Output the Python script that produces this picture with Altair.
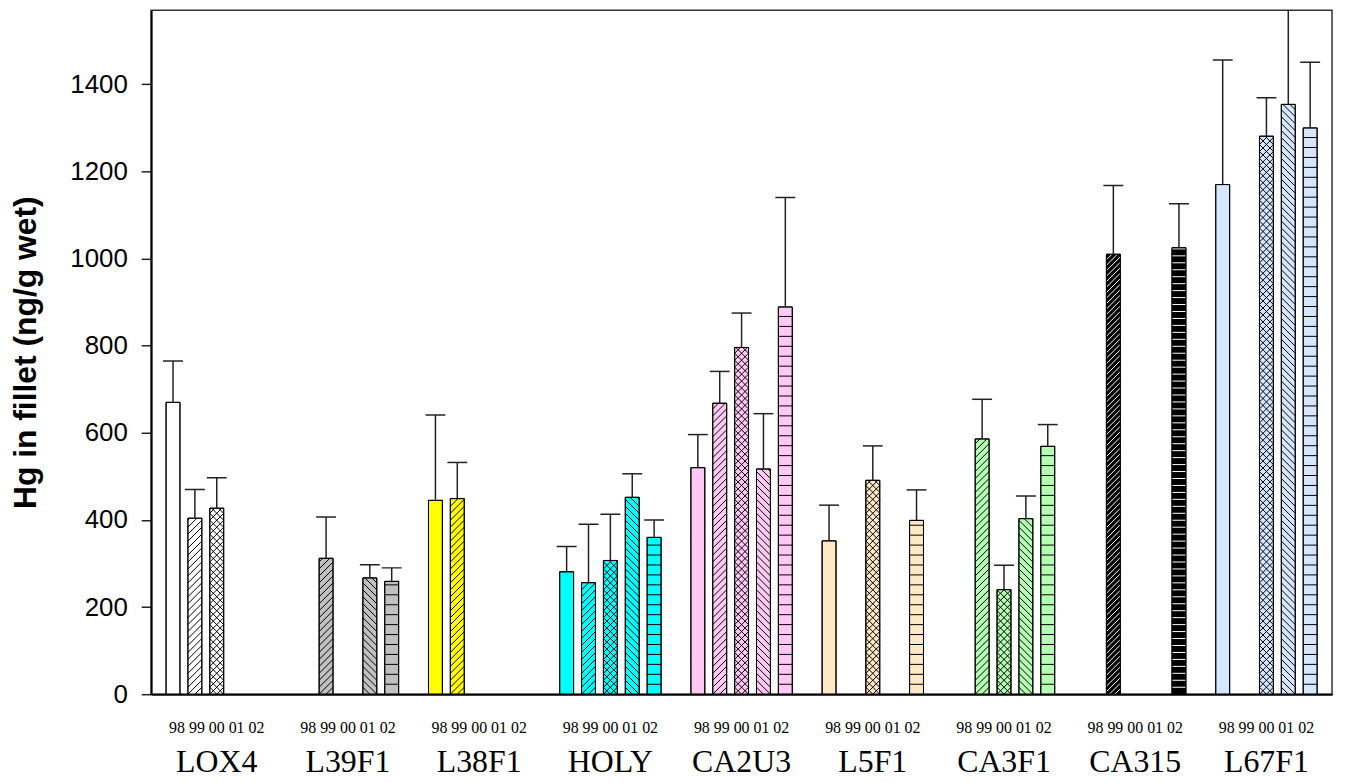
import altair as alt
import pandas as pd

# ---------------- data ----------------
sites = ["LOX4", "L39F1", "L38F1", "HOLY", "CA2U3", "L5F1", "CA3F1", "CA315", "L67F1"]
years = ["98", "99", "00", "01", "02"]
site_colors = ["#ffffff", "#c0c0c0", "#ffff00", "#00ffff", "#ffc9f4",
               "#ffe8c6", "#b5ffb5", "#000000", "#d6e6ff"]
hatch_colors = ["#000000", "#000000", "#000000", "#000000", "#000000",
                "#000000", "#000000", "#ffffff", "#000000"]
year_patterns = ["none", "fwd", "cross", "back", "horiz"]

bar_site = ["LOX4", "LOX4", "LOX4",
            "L39F1", "L39F1", "L39F1",
            "L38F1", "L38F1",
            "HOLY", "HOLY", "HOLY", "HOLY", "HOLY",
            "CA2U3", "CA2U3", "CA2U3", "CA2U3", "CA2U3",
            "L5F1", "L5F1", "L5F1",
            "CA3F1", "CA3F1", "CA3F1", "CA3F1",
            "CA315", "CA315",
            "L67F1", "L67F1", "L67F1", "L67F1"]
bar_year = ["98", "99", "00",
            "99", "01", "02",
            "98", "99",
            "98", "99", "00", "01", "02",
            "98", "99", "00", "01", "02",
            "98", "00", "02",
            "99", "00", "01", "02",
            "99", "02",
            "98", "00", "01", "02"]
bar_mean = [670, 404, 427,
            312, 267, 259,
            445, 449,
            281, 256, 307, 452, 360,
            520, 668, 796, 517, 889,
            352, 491, 399,
            586, 240, 403, 569,
            1010, 1025,
            1170, 1281, 1354, 1300]
bar_upper = [765, 470, 497,
             407, 297, 290,
             641, 532,
             339, 390, 413, 506, 400,
             596, 741, 875, 644, 1140,
             434, 570, 469,
             677, 296, 455, 619,
             1168, 1126,
             1456, 1369, 1640, 1451]

# ---------------- layout constants ----------------
W_PLOT, H_PLOT = 1188, 688
Y_MAX = 1570
N_SLOTS = len(sites) * (len(years) + 1)
PX = W_PLOT / N_SLOTS          # pixels per x unit
PY = H_PLOT / Y_MAX            # pixels per y unit
BW = 14                        # bar width in px

df = pd.DataFrame({"site": bar_site, "year": bar_year,
                   "mean": bar_mean, "upper": bar_upper})
df["si"] = df["site"].map(sites.index)
df["yi"] = df["year"].map(years.index)
df["color"] = df["si"].map(lambda i: site_colors[i])
df["hatch"] = df["si"].map(lambda i: hatch_colors[i])
df["pattern"] = df["yi"].map(lambda i: year_patterns[i])

lab = pd.DataFrame({"site": sites, "si": list(range(len(sites)))})
lab["yrs"] = " ".join(years)

xs = alt.Scale(domain=[0, N_SLOTS], nice=False, zero=False)
ys = alt.Scale(domain=[0, Y_MAX], nice=False)
x_axis = alt.Axis(labels=False, ticks=False, grid=False, title=None,
                  domainColor="black", domainWidth=2)
y_axis = alt.Axis(values=[0, 200, 400, 600, 800, 1000, 1200, 1400], format="d",
                  title="Hg in fillet (ng/g wet)", grid=False,
                  labelFont="Liberation Sans", labelFontSize=26, labelColor="black",
                  labelPadding=14, tickSize=10, tickColor="#222", tickWidth=1.5,
                  domainColor="black", domainWidth=2,
                  titleFont="Liberation Sans", titleFontSize=32, titleFontWeight="bold",
                  titleColor="black", titleX=-116, titleY=H_PLOT / 2,
                  titleBaseline="alphabetic")


def X(f):
    return alt.X(f, type="quantitative", scale=xs, axis=x_axis)


def Y(f):
    return alt.Y(f, type="quantitative", scale=ys, axis=y_axis)


base = alt.Chart(df).transform_calculate(
    cx=f"{len(years) + 1}*datum.si + datum.yi + 1",
    sp="datum.pattern == 'horiz' ? (datum.site == 'CA315' ? 7 : 10) : (datum.site == 'CA315' ? 5.5 : 7)",
    h=f"datum.mean*{PY}",
    z="0",
)

bars = base.transform_calculate(
    bx0=f"datum.cx - {BW / 2}/{PX}", bx1=f"datum.cx + {BW / 2}/{PX}"
).mark_rect(stroke="black", strokeWidth=1).encode(
    x=X("bx0"), x2="bx1", y=Y("mean"), y2="z",
    fill=alt.Fill("color:N", scale=None),
)

# forward diagonal hatch "/"
fwd = base.transform_filter(
    "datum.pattern == 'fwd' || datum.pattern == 'cross'"
).transform_calculate(
    n=f"ceil((datum.h + {BW})/datum.sp)",
).transform_calculate(
    k="sequence(1, datum.n)"
).transform_flatten(["k"]).transform_calculate(
    c=f"-{BW} + datum.k*datum.sp",
).transform_calculate(
    u0="max(0, -datum.c)", u1=f"min({BW}, datum.h - datum.c)",
).transform_filter("datum.u1 > datum.u0 + 0.3").transform_calculate(
    hx0=f"datum.cx + (datum.u0 - {BW / 2})/{PX}",
    hx1=f"datum.cx + (datum.u1 - {BW / 2})/{PX}",
    hy0=f"(datum.u0 + datum.c)/{PY}",
    hy1=f"(datum.u1 + datum.c)/{PY}",
).mark_rule(strokeWidth=1).encode(
    x=X("hx0"), x2="hx1", y=Y("hy0"), y2="hy1",
    color=alt.Color("hatch:N", scale=None),
)

# backward diagonal hatch "\"
back = base.transform_filter(
    "datum.pattern == 'back' || datum.pattern == 'cross'"
).transform_calculate(
    n=f"ceil((datum.h + {BW})/datum.sp)",
).transform_calculate(
    k="sequence(1, datum.n)"
).transform_flatten(["k"]).transform_calculate(
    c="datum.k*datum.sp",
).transform_calculate(
    u0="max(0, datum.c - datum.h)", u1=f"min({BW}, datum.c)",
).transform_filter("datum.u1 > datum.u0 + 0.3").transform_calculate(
    hx0=f"datum.cx + (datum.u0 - {BW / 2})/{PX}",
    hx1=f"datum.cx + (datum.u1 - {BW / 2})/{PX}",
    hy0=f"(datum.c - datum.u0)/{PY}",
    hy1=f"(datum.c - datum.u1)/{PY}",
).mark_rule(strokeWidth=1).encode(
    x=X("hx0"), x2="hx1", y=Y("hy0"), y2="hy1",
    color=alt.Color("hatch:N", scale=None),
)

# horizontal hatch
horiz = base.transform_filter("datum.pattern == 'horiz'").transform_calculate(
    n="floor((datum.h - 1)/datum.sp) + 1",
).transform_calculate(
    k="sequence(1, datum.n)"
).transform_flatten(["k"]).transform_calculate(
    hx0=f"datum.cx - {BW / 2}/{PX}",
    hx1=f"datum.cx + {BW / 2}/{PX}",
    hy0=f"datum.k*datum.sp/{PY}",
).mark_rule(strokeWidth=1).encode(
    x=X("hx0"), x2="hx1", y=Y("hy0"),
    color=alt.Color("hatch:N", scale=None),
)

# bar outlines drawn again on top of the hatching
outline = base.transform_calculate(
    bx0=f"datum.cx - {BW / 2}/{PX}", bx1=f"datum.cx + {BW / 2}/{PX}"
).mark_rect(stroke="black", strokeWidth=1, fillOpacity=0).encode(
    x=X("bx0"), x2="bx1", y=Y("mean"), y2="z",
)

err = base.mark_rule(color="#222", strokeWidth=1.5, clip=True).encode(
    x=X("cx"), y=Y("mean"), y2="upper",
)
caps = base.transform_calculate(
    ex0=f"datum.cx - 10/{PX}", ex1=f"datum.cx + 10/{PX}"
).mark_rule(color="#222", strokeWidth=1.5, clip=True).encode(
    x=X("ex0"), x2="ex1", y=Y("upper"),
)

lab_base = alt.Chart(lab).transform_calculate(
    gx=f"{len(years) + 1}*datum.si + {(len(years) + 1) / 2}"
)
yr_text = lab_base.mark_text(font="Liberation Serif", fontSize=16, color="black",
                             baseline="alphabetic", align="center").encode(
    x=X("gx"), y=alt.value(H_PLOT + 38.7), text="yrs:N",
)
site_text = lab_base.mark_text(font="Liberation Serif", fontSize=32, color="black",
                               baseline="alphabetic", align="center").encode(
    x=X("gx"), y=alt.value(H_PLOT + 78), text="site:N",
)

chart = alt.layer(bars, fwd, back, horiz, outline, err, caps, yr_text, site_text).properties(
    width=W_PLOT, height=H_PLOT,
    padding={"left": 144, "top": 0, "right": 6, "bottom": 85},
    autosize=alt.AutoSizeParams(type="none"),
).configure_view(stroke="#333", strokeWidth=1.5)

chart.save("out.html", embed_options={"renderer": "svg", "actions": False})
